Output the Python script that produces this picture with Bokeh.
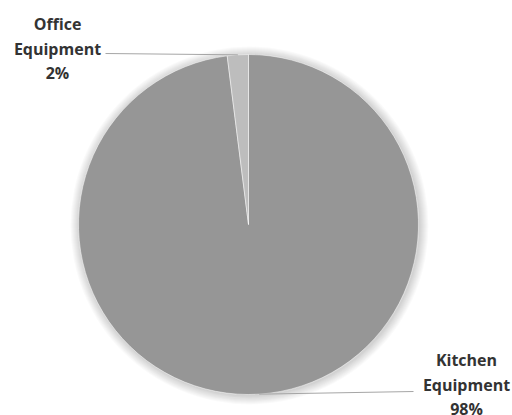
import math
from bokeh.plotting import figure
from bokeh.models import Range1d, ColumnDataSource
from bokeh.core.properties import value
from bokeh.embed import file_html
from bokeh.resources import INLINE

# ---- data ----
categories = ["Kitchen Equipment", "Office Equipment"]
label_lines = [["Kitchen", "Equipment", "98%"], ["Office", "Equipment", "2%"]]
shares = [98, 2]
colors = ["#969696", "#bdbdbd"]

# ---- layout (pixel-like data units, pie centre at origin) ----
W, H = 512, 415
cx_screen, cy_screen = 248, 224
R = 170

p = figure(width=W, height=H, output_backend="svg", toolbar_location=None,
           x_range=Range1d(0 - cx_screen, W - cx_screen),
           y_range=Range1d(cy_screen - H, cy_screen),
           min_border=0, outline_line_color=None)
p.axis.visible = False
p.grid.visible = False
p.background_fill_color = "white"
p.border_fill_color = "white"

# soft shadow / glow
for i in range(9, 0, -1):
    p.circle(x=[1], y=[-1], radius=R + i, fill_color="black", fill_alpha=0.018,
             line_color=None)

# slices: Excel style, clockwise starting at 12 o'clock
total = sum(shares)
starts, ends, mids = [], [], []
cum = 0.0
for s in shares:
    a0 = cum / total * 2 * math.pi
    cum += s
    a1 = cum / total * 2 * math.pi
    starts.append(math.pi / 2 - a1)
    ends.append(math.pi / 2 - a0)
    mids.append(math.pi / 2 - (a0 + a1) / 2)

src = ColumnDataSource(dict(start=starts, end=ends, color=colors, cat=categories))
p.wedge(x=0, y=0, radius=R, start_angle="start", end_angle="end",
        fill_color="color", line_color="white", line_width=0.5, source=src)

# leader lines + labels
label_anchor = [(466 - cx_screen, cy_screen - 384), (57 - cx_screen, cy_screen - 48)]
line_gap = [24.5, 24.5]
line_end_x = [413 - cx_screen, 105 - cx_screen]
line_y = [391, 53]
for k in range(len(shares)):
    mx = R * math.cos(mids[k])
    my = R * math.sin(mids[k])
    ly = cy_screen - line_y[k]
    p.line(x=[mx, line_end_x[k]], y=[my, ly], line_color="#a6a6a6", line_width=1)
    ax, ay = label_anchor[k]
    g = line_gap[k]
    ys = [ay + g, ay, ay - g]
    p.text(x=[ax] * 3, y=ys, text=label_lines[k],
           text_font=value("Open Sans"), text_font_style="bold",
           text_font_size="16px", text_color="#333333",
           text_align="center", text_baseline="middle")

open("out.html", "w").write(file_html(p, INLINE))
